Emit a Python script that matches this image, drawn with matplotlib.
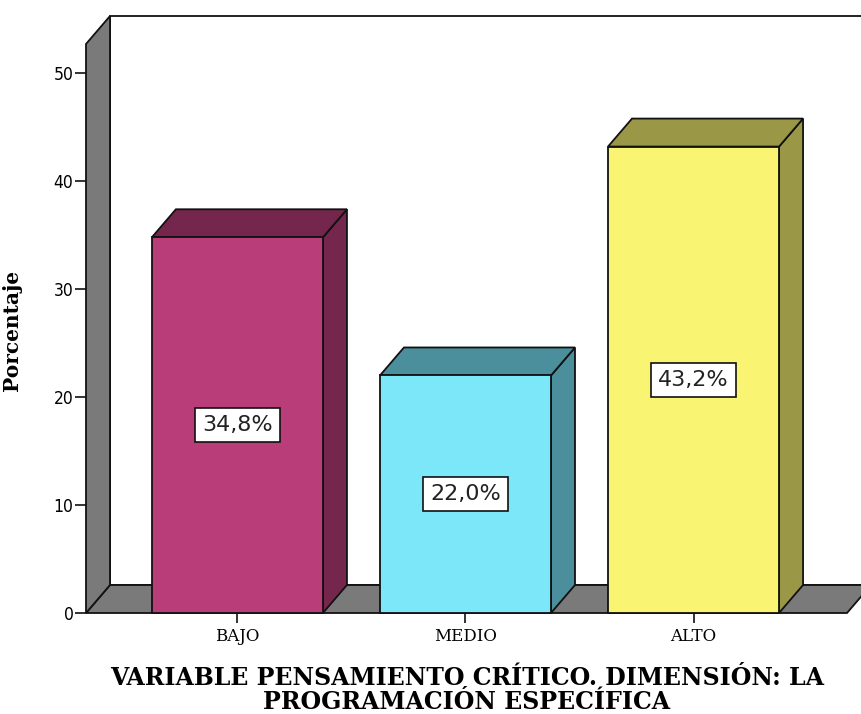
import matplotlib
matplotlib.use("Agg")
import matplotlib.pyplot as plt
from matplotlib.patches import Polygon

categories = ["BAJO", "MEDIO", "ALTO"]
values = [34.8, 22.0, 43.2]
labels = ["34,8%", "22,0%", "43,2%"]
front_colors = ["#B93D79", "#7DE7FA", "#F9F573"]
dark_colors = ["#74264D", "#4A8F9B", "#9A9746"]
yticks = [0, 10, 20, 30, 40, 50]

W, H = 861, 714
fig = plt.figure(figsize=(W / 100, H / 100), dpi=100)
# front plot area in pixels: x 86..847, y 44..613
ax = fig.add_axes([86 / W, (H - 613) / H, (847 - 86) / W, (613 - 44) / H])

xmin, xmax = -0.664, 2.673
ymax = 52.7
ax.set_xlim(xmin, xmax)
ax.set_ylim(0, ymax)
for s in ax.spines.values():
    s.set_visible(False)

# depth offset in data units (24 px right, 28 px up)
dx = 24 / 228
dy = 28 / 10.8
lw = 1.3
ec = "#111111"

# back wall
ax.add_patch(Polygon([(xmin + dx, dy), (xmax + 3 * dx, dy), (xmax + 3 * dx, ymax + dy),
                      (xmin + dx, ymax + dy)], closed=True, facecolor="white",
                     edgecolor=ec, lw=lw, clip_on=False, zorder=1))
# floor
ax.add_patch(Polygon([(xmin, 0), (xmax, 0), (xmax + dx, dy), (xmin + dx, dy)],
                     closed=True, facecolor="#7A7A7A", edgecolor=ec, lw=lw,
                     clip_on=False, zorder=2))
# left wall
ax.add_patch(Polygon([(xmin, 0), (xmin + dx, dy), (xmin + dx, ymax + dy), (xmin, ymax)],
                     closed=True, facecolor="#7A7A7A", edgecolor=ec, lw=lw,
                     clip_on=False, zorder=2))

bw = 0.375
for i, v in enumerate(values):
    l, r = i - bw, i + bw
    ax.add_patch(Polygon([(r, 0), (r + dx, dy), (r + dx, v + dy), (r, v)], closed=True,
                         facecolor=dark_colors[i], edgecolor=ec, lw=lw, clip_on=False, zorder=3))
    ax.add_patch(Polygon([(l, v), (r, v), (r + dx, v + dy), (l + dx, v + dy)], closed=True,
                         facecolor=dark_colors[i], edgecolor=ec, lw=lw, clip_on=False, zorder=3))
    ax.add_patch(Polygon([(l, 0), (r, 0), (r, v), (l, v)], closed=True,
                         facecolor=front_colors[i], edgecolor=ec, lw=lw, clip_on=False, zorder=4))
    ax.text(i, v / 2, labels[i], ha="center", va="center", fontsize=16,
            family="DejaVu Sans", color="#222222", zorder=5,
            bbox=dict(boxstyle="square,pad=0.32", facecolor="white", edgecolor=ec, lw=1.2))

ax.set_yticks(yticks)
ax.set_yticklabels([str(t) for t in yticks], fontsize=12.5, family="DejaVu Sans",
                   stretch="condensed")
ax.set_xticks(range(len(categories)))
ax.set_xticklabels(categories, fontsize=12, family="DejaVu Serif")
ax.tick_params(axis="y", length=8, width=1.2, pad=1, color=ec)
ax.tick_params(axis="x", length=7, width=1.2, pad=4, color=ec)

ax.set_ylabel("Porcentaje", fontsize=14.5, family="DejaVu Serif", fontweight="bold")
ax.yaxis.set_label_coords((22 - 86) / 761, (613 - 330) / 569)
fig.text(467 / W, 1 - 690 / H, "VARIABLE PENSAMIENTO CRÍTICO. DIMENSIÓN: LA\nPROGRAMACIÓN ESPECÍFICA",
         ha="center", va="center", fontsize=17, family="DejaVu Serif",
         fontweight="bold", linespacing=1.0)

fig.savefig("out.png", dpi=100)
